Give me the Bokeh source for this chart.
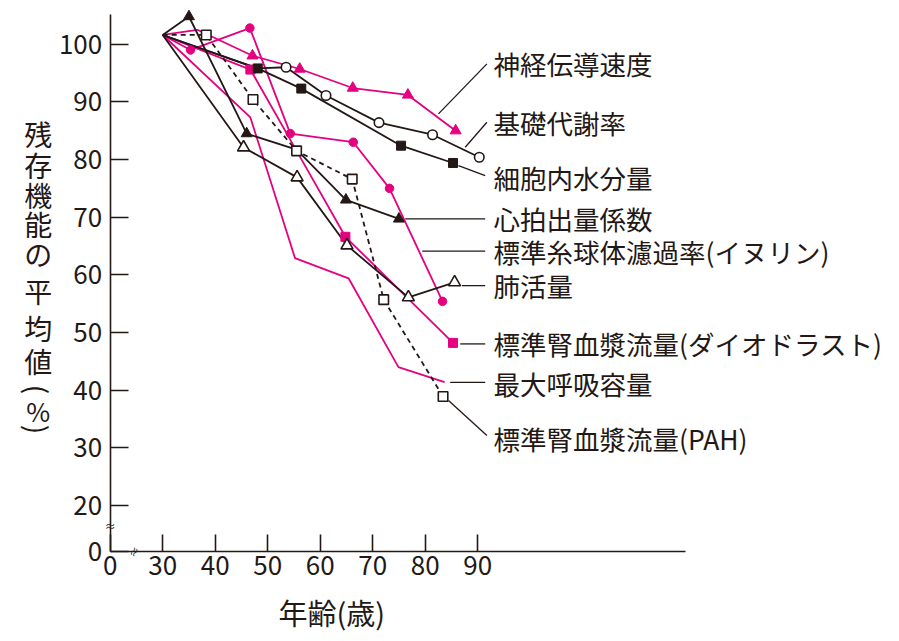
import math
from bokeh.plotting import figure
from bokeh.models import Range1d, FixedTicker, Label
from bokeh.embed import file_html
from bokeh.resources import INLINE

MAG = "#e4007f"
BLK = "#231815"
FONT = "Noto Sans CJK JP"

# ---------------- data (age, % of residual function) ----------------
nerve_x = [30, 36.6, 47.1, 56.1, 66.2, 76.7, 85.8]
nerve_y = [101.6, 102.5, 98.0, 95.7, 92.4, 91.2, 85.0]
nerve_mk = [2, 3, 4, 5, 6]

gfr_x = [30, 35.3, 46.6, 54.3, 66.3, 73.2, 83.3]
gfr_y = [101.6, 99.0, 102.8, 84.5, 83.0, 75.0, 55.4]
gfr_mk = [1, 2, 3, 4, 5, 6]

diod_x = [30, 46.7, 55.7, 64.8, 85.3]
diod_y = [101.6, 95.6, 81.2, 66.6, 48.2]
diod_mk = [1, 3, 4]

mbc_x = [30, 46.7, 55.2, 65.4, 74.9, 83.7]
mbc_y = [101.6, 87.3, 62.9, 59.4, 44.0, 41.4]

bmr_x = [30, 48.0, 53.5, 61.1, 71.2, 81.4, 90.3]
bmr_y = [101.6, 95.8, 96.0, 91.1, 86.4, 84.3, 80.4]
bmr_mk = [2, 3, 4, 5, 6]

water_x = [30, 48.1, 56.4, 75.4, 85.3]
water_y = [101.6, 95.8, 92.3, 82.4, 79.4]
water_mk = [1, 2, 3, 4]

cardiac_x = [30, 35.0, 46.0, 55.5, 64.9, 75.0]
cardiac_y = [101.6, 104.8, 84.5, 81.7, 73.0, 69.7]
cardiac_mk = [1, 2, 4, 5]

vital_x = [30, 45.4, 55.6, 65.1, 76.8, 85.6]
vital_y = [101.6, 82.1, 76.9, 65.1, 56.1, 58.7]
vital_mk = [1, 2, 3, 4, 5]

pah_x = [30, 38.3, 47.2, 55.5, 66.1, 72.1, 83.4]
pah_y = [101.6, 101.6, 90.4, 81.5, 76.6, 55.7, 38.9]
pah_mk = [1, 2, 3, 4, 5, 6]

x_ticks = [20, 30, 40, 50, 60, 70, 80, 90]
x_tick_labels = {20: "0"}
y_ticks = [12, 20, 30, 40, 50, 60, 70, 80, 90, 100]
y_tick_labels = {12: "0"}

series_labels = ["神経伝導速度", "基礎代謝率", "細胞内水分量", "心拍出量係数",
                 "標準糸球体濾過率(イヌリン)", "肺活量",
                 "標準腎血漿流量(ダイオドラスト)", "最大呼吸容量", "標準腎血漿流量(PAH)"]
label_y = [96.58, 86.46, 76.92, 69.70, 64.12, 58.13, 48.02, 41.09, 31.55]
label_x = 93.0

# leader lines (x0, y0, x1, y1)
leaders = [
    (91.75, 96.58, 82.53, 87.91),
    (91.75, 86.46, 87.62, 82.12),
    (91.43, 77.21, 86.34, 78.95),
    (76.19, 69.70, 91.43, 69.70),
    (79.43, 64.12, 91.43, 64.12),
    (86.99, 58.13, 91.43, 58.13),
    (86.67, 48.02, 91.43, 48.02),
    (84.76, 41.36, 91.43, 41.36),
    (84.44, 38.19, 91.75, 32.12),
]

ylabel_chars = ["残", "存", "機", "能", "の", "平", "均", "値"]
ylabel_char_y = [84.50, 79.12, 73.92, 68.89, 63.69, 57.27, 50.85, 45.13]

# ---------------- figure: frame fills the canvas, axes at fixed locations ----------------
PX_X = 5.25     # px per year
PX_Y = 5.766    # px per percent
W, H = 890, 635
x0 = 20 - 109.7 / PX_X
y1 = 100 + 43.7 / PX_Y

p = figure(width=W, height=H, output_backend="svg", toolbar_location=None,
           x_range=Range1d(x0, x0 + W / PX_X), y_range=Range1d(y1 - H / PX_Y, y1),
           min_border=0, min_border_left=0, min_border_right=0,
           min_border_top=0, min_border_bottom=0)
p.outline_line_color = None
p.grid.visible = False
p.background_fill_color = "white"
p.border_fill_color = "white"

p.xaxis.fixed_location = 12
p.yaxis.fixed_location = 20
p.xaxis.bounds = (20, 129.5)
p.yaxis.bounds = (12, 105.1)

for ax in (p.xaxis[0], p.yaxis[0]):
    ax.axis_line_color = BLK
    ax.axis_line_width = 1.6
    ax.major_tick_line_color = BLK
    ax.major_tick_line_width = 1.6
    ax.major_tick_out = 0
    ax.minor_tick_line_color = None
    ax.major_label_text_font = FONT
    ax.major_label_text_font_size = "26px"
    ax.major_label_text_color = BLK
p.xaxis.ticker = FixedTicker(ticks=x_ticks)
p.xaxis.major_label_overrides = x_tick_labels
p.xaxis.major_tick_in = 17
p.xaxis.major_label_standoff = 4
p.yaxis.ticker = FixedTicker(ticks=y_ticks)
p.yaxis.major_label_overrides = y_tick_labels
p.yaxis.major_tick_in = 18
p.yaxis.major_label_standoff = 8

LW = 1.8
# lines
p.line(mbc_x, mbc_y, line_color=MAG, line_width=LW)
p.line(diod_x, diod_y, line_color=MAG, line_width=LW)
p.line(gfr_x, gfr_y, line_color=MAG, line_width=LW)
p.line(nerve_x, nerve_y, line_color=MAG, line_width=LW)
p.line(vital_x, vital_y, line_color=BLK, line_width=LW)
p.line(cardiac_x, cardiac_y, line_color=BLK, line_width=LW)
p.line(water_x, water_y, line_color=BLK, line_width=LW)
p.line(bmr_x, bmr_y, line_color=BLK, line_width=LW)
p.line(pah_x, pah_y, line_color=BLK, line_width=LW, line_dash="5 4")

# leaders
for (xa, ya, xb, yb) in leaders:
    p.line([xa, xb], [ya, yb], line_color=BLK, line_width=1.3)


def pick(xs, ys, idx):
    return [xs[i] for i in idx], [ys[i] for i in idx]


# markers
mx, my = pick(diod_x, diod_y, diod_mk)
p.scatter(mx, my, marker="square", size=9, fill_color=MAG, line_color=MAG)
mx, my = pick(gfr_x, gfr_y, gfr_mk)
p.scatter(mx, my, marker="circle", size=8.5, fill_color=MAG, line_color=MAG)
mx, my = pick(nerve_x, nerve_y, nerve_mk)
p.scatter(mx, my, marker="triangle", size=11, fill_color=MAG, line_color=MAG)
mx, my = pick(cardiac_x, cardiac_y, cardiac_mk)
p.scatter(mx, my, marker="triangle", size=11, fill_color=BLK, line_color=BLK)
mx, my = pick(water_x, water_y, water_mk)
p.scatter(mx, my, marker="square", size=9, fill_color=BLK, line_color=BLK)
mx, my = pick(vital_x, vital_y, vital_mk)
p.scatter(mx, my, marker="triangle", size=12, fill_color="white", line_color=BLK, line_width=1.6)
mx, my = pick(bmr_x, bmr_y, bmr_mk)
p.scatter(mx, my, marker="circle", size=9.5, fill_color="white", line_color=BLK, line_width=1.6)
mx, my = pick(pah_x, pah_y, pah_mk)
p.scatter(mx, my, marker="square", size=9.5, fill_color="white", line_color=BLK, line_width=1.6)

# series labels
for t, yy in zip(series_labels, label_y):
    p.add_layout(Label(x=label_x, y=yy, text=t, text_font=FONT, text_font_size="26.5px",
                       text_color=BLK, text_align="left", text_baseline="middle"))

# x axis title
p.add_layout(Label(x=62.19, y=1.6, text="年齢(歳)", text_font=FONT, text_font_size="29px",
                   text_color=BLK, text_align="center", text_baseline="middle"))

# y axis title, vertical upright characters
for ch, yy in zip(ylabel_chars, ylabel_char_y):
    p.add_layout(Label(x=6.29, y=yy, text=ch, text_font=FONT, text_font_size="28px",
                       text_color=BLK, text_align="center", text_baseline="middle"))
p.add_layout(Label(x=6.29, y=40.10, text="(", angle=-math.pi / 2, text_font=FONT,
                   text_font_size="28px", text_color=BLK, text_align="center", text_baseline="middle"))
p.add_layout(Label(x=6.29, y=36.45, text="%", text_font=FONT, text_font_size="26px",
                   text_color=BLK, text_align="center", text_baseline="middle"))
p.add_layout(Label(x=6.29, y=33.16, text=")", angle=-math.pi / 2, text_font=FONT,
                   text_font_size="28px", text_color=BLK, text_align="center", text_baseline="middle"))

# axis break marks
p.add_layout(Label(x=20, y=16.5, text="≈", text_font=FONT, text_font_size="11px",
                   text_color=BLK, text_align="center", text_baseline="middle"))
p.add_layout(Label(x=24.44, y=12, text="≈", angle=math.pi / 3, text_font=FONT, text_font_size="11px",
                   text_color=BLK, text_align="center", text_baseline="middle"))

open("out.html", "w").write(file_html(p, INLINE))
